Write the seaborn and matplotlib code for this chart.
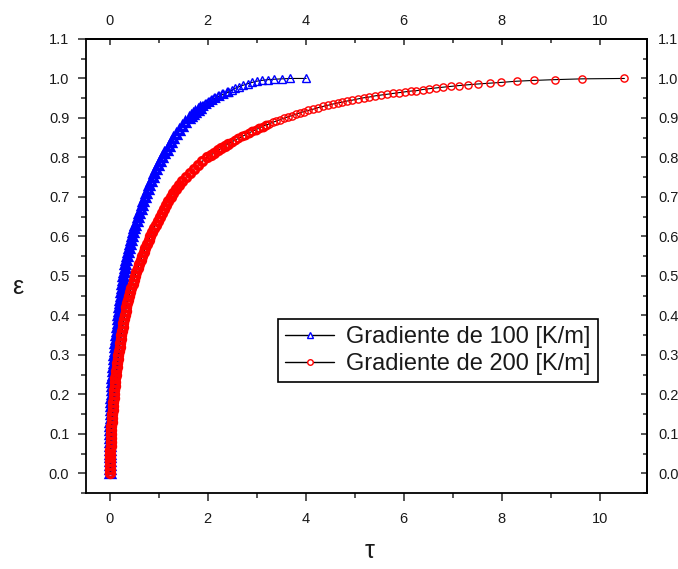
import matplotlib
matplotlib.use("Agg")
import matplotlib.pyplot as plt
import seaborn as sns
from matplotlib.lines import Line2D
from matplotlib.ticker import MultipleLocator, FormatStrFormatter

# ---------------------------
# Data
# ---------------------------
label_100 = "Gradiente de 100 [K/m]"
label_200 = "Gradiente de 200 [K/m]"

eps_100 = [
    0.00, 0.01, 0.02, 0.03, 0.04, 0.05, 0.06, 0.07, 0.08, 0.09,
    0.10, 0.11, 0.12, 0.13, 0.14, 0.15, 0.16, 0.17, 0.18, 0.19,
    0.20, 0.21, 0.22, 0.23, 0.24, 0.25, 0.26, 0.27, 0.28, 0.29,
    0.30, 0.31, 0.32, 0.33, 0.34, 0.35, 0.36, 0.37, 0.38, 0.39,
    0.40, 0.41, 0.42, 0.43, 0.44, 0.45, 0.46, 0.47, 0.48, 0.49,
    0.50, 0.51, 0.52, 0.53, 0.54, 0.55, 0.56, 0.57, 0.58, 0.59,
    0.60, 0.61, 0.62, 0.63, 0.64, 0.65, 0.66, 0.67, 0.68, 0.69,
    0.70, 0.71, 0.72, 0.73, 0.74, 0.75, 0.76, 0.77, 0.78, 0.79,
    0.80, 0.81, 0.82, 0.83, 0.84, 0.85, 0.86, 0.87, 0.88, 0.89,
    0.90, 0.905, 0.91, 0.915, 0.92, 0.925, 0.93, 0.935, 0.94, 0.945,
    0.95, 0.955, 0.96, 0.965, 0.970, 0.975, 0.979, 0.983, 0.987, 0.990,
    0.993, 0.995, 0.997, 0.998, 0.999, 1.000, 1.000,
]
tau_100 = [
    0.000, 0.000, 0.000, 0.001, 0.002, 0.003, 0.004, 0.005, 0.007, 0.009,
    0.011, 0.013, 0.015, 0.018, 0.021, 0.024, 0.027, 0.030, 0.034, 0.038,
    0.042, 0.046, 0.051, 0.056, 0.061, 0.066, 0.071, 0.077, 0.083, 0.089,
    0.096, 0.104, 0.112, 0.120, 0.128, 0.137, 0.146, 0.155, 0.164, 0.173,
    0.182, 0.191, 0.200, 0.209, 0.218, 0.228, 0.238, 0.249, 0.260, 0.271,
    0.282, 0.295, 0.310, 0.325, 0.341, 0.359, 0.377, 0.396, 0.415, 0.435,
    0.456, 0.478, 0.500, 0.525, 0.551, 0.578, 0.605, 0.633, 0.661, 0.690,
    0.720, 0.750, 0.781, 0.813, 0.846, 0.880, 0.917, 0.955, 0.995, 1.036,
    1.078, 1.120, 1.163, 1.207, 1.252, 1.300, 1.355, 1.415, 1.480, 1.548,
    1.620, 1.662, 1.706, 1.752, 1.800, 1.850, 1.905, 1.962, 2.022, 2.085,
    2.150, 2.232, 2.322, 2.420, 2.490, 2.560, 2.640, 2.730, 2.820, 2.910,
    3.000, 3.100, 3.230, 3.360, 3.510, 3.680, 4.010,
]

eps_200 = [
    0.00, 0.01, 0.02, 0.03, 0.04, 0.05, 0.06, 0.07, 0.08, 0.09,
    0.10, 0.11, 0.12, 0.13, 0.14, 0.15, 0.16, 0.17, 0.18, 0.19,
    0.20, 0.21, 0.22, 0.23, 0.24, 0.25, 0.26, 0.27, 0.28, 0.29,
    0.30, 0.31, 0.32, 0.33, 0.34, 0.35, 0.36, 0.37, 0.38, 0.39,
    0.40, 0.41, 0.42, 0.43, 0.44, 0.45, 0.46, 0.47, 0.48, 0.49,
    0.50, 0.51, 0.52, 0.53, 0.54, 0.55, 0.56, 0.57, 0.58, 0.59,
    0.60, 0.61, 0.62, 0.63, 0.64, 0.65, 0.66, 0.67, 0.68, 0.69,
    0.70, 0.71, 0.72, 0.73, 0.74, 0.75, 0.76, 0.77, 0.78, 0.79,
    0.800, 0.806, 0.812, 0.818, 0.823, 0.829, 0.834, 0.839, 0.844, 0.848,
    0.853, 0.857, 0.862, 0.866, 0.870, 0.874, 0.878, 0.882, 0.885, 0.889,
    0.892, 0.896, 0.899, 0.903, 0.906, 0.909, 0.913, 0.916, 0.919, 0.922,
    0.926, 0.929, 0.932, 0.935, 0.938, 0.940, 0.943, 0.945, 0.948, 0.951,
    0.953, 0.956, 0.958, 0.960, 0.962, 0.964, 0.966, 0.968, 0.969, 0.972,
    0.974, 0.976, 0.978, 0.980, 0.982, 0.984, 0.986, 0.988, 0.990, 0.993,
    0.995, 0.997, 0.999, 1.000,
]
tau_200 = [
    0.015, 0.015, 0.016, 0.017, 0.018, 0.019, 0.020, 0.022, 0.024, 0.027,
    0.030, 0.035, 0.040, 0.046, 0.052, 0.058, 0.064, 0.070, 0.077, 0.083,
    0.090, 0.097, 0.104, 0.112, 0.120, 0.129, 0.138, 0.148, 0.158, 0.169,
    0.180, 0.192, 0.204, 0.216, 0.228, 0.241, 0.254, 0.267, 0.281, 0.295,
    0.310, 0.327, 0.345, 0.364, 0.383, 0.403, 0.425, 0.448, 0.472, 0.496,
    0.520, 0.549, 0.578, 0.608, 0.638, 0.668, 0.699, 0.731, 0.763, 0.796,
    0.830, 0.866, 0.903, 0.940, 0.979, 1.020, 1.063, 1.107, 1.153, 1.201,
    1.250, 1.304, 1.361, 1.422, 1.488, 1.560, 1.636, 1.716, 1.800, 1.890,
    1.985, 2.07, 2.14, 2.21, 2.28, 2.35, 2.42, 2.49, 2.56, 2.63,
    2.70, 2.77, 2.84, 2.91, 2.98, 3.05, 3.12, 3.19, 3.26, 3.33,
    3.40, 3.48, 3.56, 3.64, 3.72, 3.80, 3.88, 3.96, 4.05, 4.15,
    4.25, 4.35, 4.45, 4.55, 4.65, 4.75, 4.85, 4.95, 5.06, 5.18,
    5.30, 5.42, 5.54, 5.66, 5.78, 5.90, 6.02, 6.14, 6.26, 6.39,
    6.52, 6.66, 6.81, 6.97, 7.13, 7.31, 7.51, 7.75, 7.99, 8.30,
    8.65, 9.08, 9.64, 10.50,
]

x_ticks = [0, 2, 4, 6, 8, 10]
y_ticks = [0.0, 0.1, 0.2, 0.3, 0.4, 0.5, 0.6, 0.7, 0.8, 0.9, 1.0, 1.1]

# indices where the overlapping markers go from a solid band,
# to a textured band, to separate markers
cuts_100 = (95, 103)
cuts_200 = (86, 97)

# ---------------------------
# Style
# ---------------------------
sns.set_style("ticks")
plt.rcParams["font.family"] = ["Liberation Sans", "DejaVu Sans"]
plt.rcParams["axes.edgecolor"] = "black"
plt.rcParams["axes.linewidth"] = 1.3
text_col = "#1a1a1a"

fig = plt.figure(figsize=(6.78, 5.69), dpi=100)
ax = fig.add_axes([0.1268, 0.1336, 0.8274, 0.7979])

# ---------------------------
# Series
# ---------------------------
def draw(tau, eps, cuts, marker, colour, ms):
    a, b = cuts
    parts = [(0, a + 1, ms + 0.6, 2.4), (a, b + 1, ms + 0.3, 1.6), (b, len(tau), ms, 1.0)]
    for start, stop, size, edge in parts:
        sns.lineplot(x=tau[start:stop], y=eps[start:stop], ax=ax, sort=False,
                     estimator=None, color="black", lw=0.8, marker=marker,
                     ms=size, mfc="none", mec=colour, mew=edge, legend=False)

draw(tau_100, eps_100, cuts_100, "^", "blue", 5.5)
draw(tau_200, eps_200, cuts_200, "o", "red", 5.2)

ax.set_xlim(-0.48, 10.96)
ax.set_ylim(-0.05, 1.1)

# bottom / left axes: ticks outward
ax.set_xticks(x_ticks)
ax.set_yticks(y_ticks)
ax.xaxis.set_minor_locator(MultipleLocator(1))
ax.yaxis.set_minor_locator(MultipleLocator(0.05))
ax.yaxis.set_major_formatter(FormatStrFormatter("%.1f"))
ax.tick_params(which="major", direction="out", length=6, width=1.1,
               labelsize=10.5, labelcolor=text_col)
ax.tick_params(which="minor", direction="out", length=3.8, width=1.1)
ax.tick_params(axis="x", which="major", pad=8)
ax.tick_params(axis="y", which="major", pad=6)

# top / right mirror axes: ticks inward
top = ax.secondary_xaxis("top")
top.set_xticks(x_ticks)
top.xaxis.set_minor_locator(MultipleLocator(1))
top.tick_params(which="major", direction="in", length=4.5, width=1.1,
                pad=8, labelsize=10.5, labelcolor=text_col)
top.tick_params(which="minor", direction="in", length=2.8, width=1.1)

right = ax.secondary_yaxis("right")
right.set_yticks(y_ticks)
right.yaxis.set_minor_locator(MultipleLocator(0.05))
right.yaxis.set_major_formatter(FormatStrFormatter("%.1f"))
right.tick_params(which="major", direction="in", length=4.5, width=1.1,
                  pad=8, labelsize=10.5, labelcolor=text_col)
right.tick_params(which="minor", direction="in", length=2.8, width=1.1)

# axis labels
ax.set_xlabel("τ", fontsize=18, color=text_col, va="center")
ax.xaxis.set_label_coords(0.506, -0.128)
ax.set_ylabel("ε", fontsize=18, color=text_col, rotation=0, va="center", ha="center")
ax.yaxis.set_label_coords(-0.121, 0.4537)

# legend
h100 = Line2D([], [], color="black", lw=1.0, marker="^", ms=4, mfc="white",
              mec="blue", mew=1.0)
h200 = Line2D([], [], color="black", lw=1.0, marker="o", ms=4, mfc="white",
              mec="red", mew=1.0)
leg = ax.legend([h100, h200], [label_100, label_200], loc="upper left",
                bbox_to_anchor=(0.342, 0.383), borderaxespad=0, fontsize=17,
                frameon=True, fancybox=False, framealpha=1, edgecolor="black",
                borderpad=0.3, labelspacing=0.22, handlelength=2.1,
                handletextpad=0.5)
leg.get_frame().set_linewidth(1.2)
for t in leg.get_texts():
    t.set_color(text_col)

plt.savefig("out.png", dpi=100)
